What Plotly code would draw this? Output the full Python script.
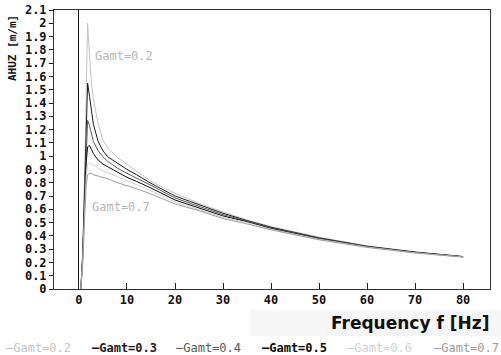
import plotly.graph_objects as go

freq = [0.4, 0.8, 1.2, 1.5, 1.8, 2.2, 2.6, 3, 4, 5, 6, 8, 10, 12, 15, 20, 25, 30, 35, 40, 50, 60, 70, 80]

gamt_02 = [0, 0.3, 0.9, 1.5, 2.0, 1.75, 1.55, 1.43, 1.24, 1.12, 1.06, 0.99, 0.94, 0.885, 0.81, 0.72, 0.645, 0.58, 0.52, 0.47, 0.39, 0.325, 0.28, 0.245]
gamt_03 = [0, 0.28, 0.8, 1.25, 1.55, 1.45, 1.32, 1.24, 1.11, 1.04, 0.995, 0.945, 0.90, 0.86, 0.795, 0.70, 0.635, 0.57, 0.515, 0.465, 0.385, 0.322, 0.278, 0.244]
gamt_04 = [0, 0.26, 0.72, 1.08, 1.27, 1.23, 1.16, 1.11, 1.04, 0.995, 0.96, 0.91, 0.87, 0.835, 0.78, 0.685, 0.625, 0.56, 0.51, 0.46, 0.38, 0.32, 0.276, 0.243]
gamt_05 = [0, 0.24, 0.66, 0.95, 1.07, 1.08, 1.05, 1.02, 0.97, 0.94, 0.92, 0.88, 0.84, 0.81, 0.76, 0.67, 0.61, 0.55, 0.505, 0.455, 0.378, 0.318, 0.275, 0.242]
gamt_06 = [0, 0.22, 0.6, 0.85, 0.94, 0.95, 0.94, 0.93, 0.91, 0.89, 0.875, 0.84, 0.81, 0.785, 0.74, 0.655, 0.60, 0.54, 0.50, 0.45, 0.375, 0.316, 0.273, 0.241]
gamt_07 = [0, 0.2, 0.55, 0.78, 0.86, 0.87, 0.87, 0.86, 0.85, 0.84, 0.83, 0.80, 0.78, 0.755, 0.715, 0.64, 0.59, 0.53, 0.49, 0.445, 0.37, 0.313, 0.271, 0.24]

names = ["Gamt=0.2", "Gamt=0.3", "Gamt=0.4", "Gamt=0.5", "Gamt=0.6", "Gamt=0.7"]
series = [gamt_02, gamt_03, gamt_04, gamt_05, gamt_06, gamt_07]
colors = ["#c4c4c4", "#1e1e1e", "#5a5a5a", "#0a0a0a", "#d2d2d2", "#9e9e9e"]
legend_weight = ["normal", "bold", "normal", "bold", "normal", "normal"]

mono = "DejaVu Sans Mono"
W, H = 501, 355
L, R, T, B = 54, 11, 10, 66
PW, PH = W - L - R, H - T - B


def px(x):
    return (x - L) / PW


def py(y):
    return (H - B - y) / PH


fig = go.Figure()
for name, ys, c in zip(names, series, colors):
    fig.add_trace(go.Scatter(x=freq, y=ys, mode="lines", name=name,
                             line=dict(color=c, width=1), showlegend=False))

# faint band behind the x-axis title
fig.add_shape(type="rect", xref="paper", yref="paper",
              x0=px(250), x1=px(501), y0=py(336), y1=py(310),
              fillcolor="#f6f6f6", line=dict(width=0), layer="below")

# legend drawn as text
leg_x = [38, 124, 208, 294, 379, 466]
for name, c, lx, wt in zip(names, colors, leg_x, legend_weight):
    fig.add_annotation(xref="paper", yref="paper", x=px(lx), y=py(348),
                       text="\u2014" + name, showarrow=False, xanchor="center", yanchor="middle",
                       font=dict(family=mono, size=12, color=c, weight=wt))

fig.add_annotation(x=9.4, y=1.755, text="Gamt=0.2", showarrow=False,
                   font=dict(family=mono, size=12, color="#b8b8b8"))
fig.add_annotation(x=8.75, y=0.615, text="Gamt=0.7", showarrow=False,
                   font=dict(family=mono, size=12, color="#b8b8b8"))

# axis titles
fig.add_annotation(xref="paper", yref="paper", x=px(491), y=py(323),
                   text="Frequency f [Hz]", showarrow=False, xanchor="right", yanchor="middle",
                   font=dict(family="DejaVu Sans", size=17, color="#111111", weight="bold"))
fig.add_annotation(xref="paper", yref="paper", x=px(13), y=py(48),
                   text="AHUZ [m/m]", showarrow=False, textangle=-90, xanchor="center", yanchor="middle",
                   font=dict(family=mono, size=11, color="#111111", weight="bold"))

fig.update_layout(
    width=W, height=H,
    margin=dict(l=L, r=R, t=T, b=B, autoexpand=False),
    paper_bgcolor="white", plot_bgcolor="white",
    font=dict(family=mono, size=11, color="#111111"),
    xaxis=dict(range=[-5.2, 85.6], tickvals=[0, 10, 20, 30, 40, 50, 60, 70, 80],
               ticks="inside", ticklen=6, tickcolor="#222", showgrid=False,
               showline=True, linecolor="#333", linewidth=1, mirror=True,
               zeroline=True, zerolinecolor="#111", zerolinewidth=1, automargin=False,
               tickfont=dict(family=mono, size=12, weight="bold", color="#111")),
    yaxis=dict(range=[0, 2.1], dtick=0.1, tick0=0,
               ticks="outside", ticklen=4, tickcolor="#222", showgrid=False,
               showline=True, linecolor="#333", linewidth=1, mirror=True,
               zeroline=False, automargin=False, ticklabeloverflow="allow",
               tickfont=dict(family=mono, size=12, weight="bold", color="#111")),
)

fig.write_html("out.html", config={"displayModeBar": False},
               post_script="document.body.style.margin='0';document.body.style.overflow='hidden';")
